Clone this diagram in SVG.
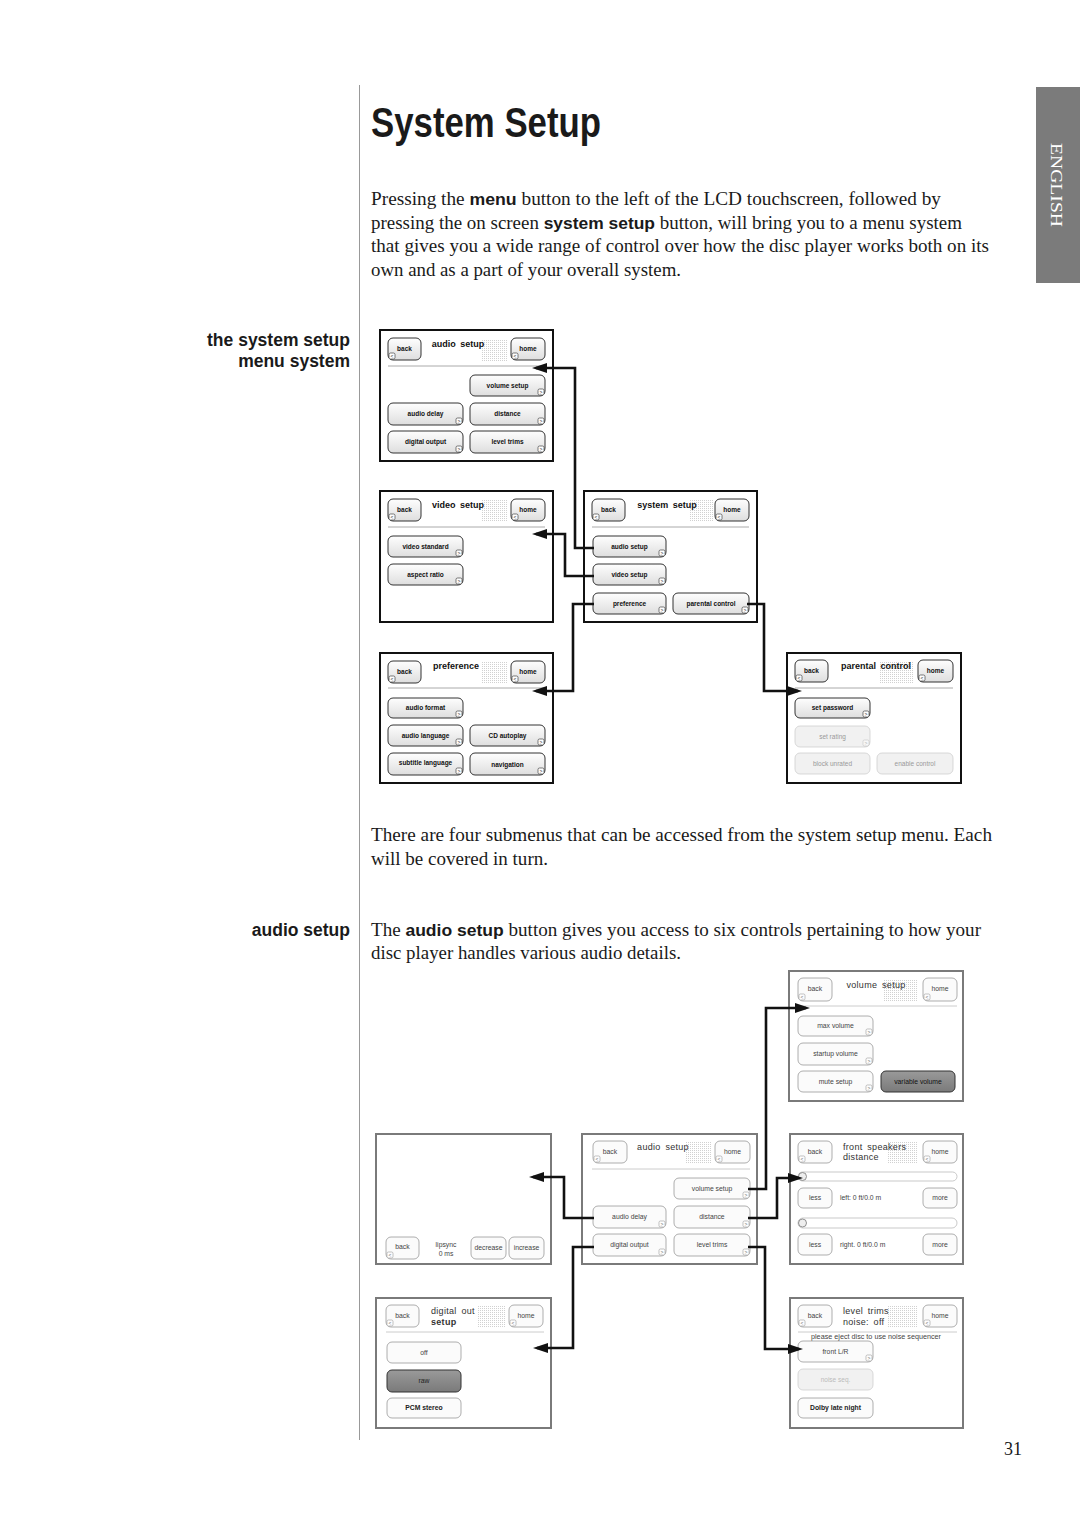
<svg xmlns="http://www.w3.org/2000/svg" xmlns:xlink="http://www.w3.org/1999/xlink" width="1080" height="1527" viewBox="0 0 1080 1527">
<defs>
<linearGradient id="bg" x1="0" y1="0" x2="0" y2="1"><stop offset="0" stop-color="#fefefe"/><stop offset="1" stop-color="#dedede"/></linearGradient>
<linearGradient id="dk" x1="0" y1="0" x2="0" y2="1"><stop offset="0" stop-color="#9a9a9a"/><stop offset="1" stop-color="#7a7a7a"/></linearGradient>
<pattern id="dots" width="2" height="2" patternUnits="userSpaceOnUse"><rect width="1" height="1" fill="#bdbdbd"/></pattern>
<marker id="ah" viewBox="0 0 15 10" refX="11" refY="5" markerWidth="15" markerHeight="10" markerUnits="userSpaceOnUse" orient="auto"><polygon points="0,0 15,5 0,10" fill="#111"/></marker>
<g id="cr"><rect x="0" y="0" width="6" height="6" rx="1.5" fill="#fff" stroke="#444" stroke-width="0.7"/><text x="3" y="4.8" font-family="Liberation Sans, Arial, sans-serif" font-size="5" text-anchor="middle" fill="#222">&gt;</text></g>
<g id="cl"><rect x="0" y="0" width="6" height="6" rx="1.5" fill="#fff" stroke="#444" stroke-width="0.7"/><text x="3" y="4.8" font-family="Liberation Sans, Arial, sans-serif" font-size="5" text-anchor="middle" fill="#222">&lt;</text></g>
<g id="cr2"><rect x="0" y="0" width="6" height="6" rx="1.5" fill="#fff" stroke="#999" stroke-width="0.6"/><text x="3" y="4.8" font-family="Liberation Sans, Arial, sans-serif" font-size="5" text-anchor="middle" fill="#666">&gt;</text></g>
<g id="cl2"><rect x="0" y="0" width="6" height="6" rx="1.5" fill="#fff" stroke="#999" stroke-width="0.6"/><text x="3" y="4.8" font-family="Liberation Sans, Arial, sans-serif" font-size="5" text-anchor="middle" fill="#666">&lt;</text></g>
</defs>
<style>
.body{font-family:"Liberation Serif","Times New Roman",serif;font-size:18.5px;fill:#1a1a1a}
.bsans{font-family:"Liberation Sans",Arial,sans-serif;font-weight:bold;font-size:17px}
.side{font-family:"Liberation Sans",Arial,sans-serif;font-weight:bold;font-size:17.5px;fill:#1a1a1a;text-anchor:end}
.pan{fill:#fff;stroke:#111;stroke-width:2}
.pan2{fill:#fff;stroke:#7a7a7a;stroke-width:2}
.b{fill:url(#bg);stroke:#333;stroke-width:1}
.b2{fill:#fbfbfb;stroke:#999;stroke-width:0.8}
.bg{fill:#f1f1f1;stroke:#cfcfcf;stroke-width:0.8}
.bd{fill:url(#dk);stroke:#333;stroke-width:1}
.sep{stroke:#aaa;stroke-width:1}
.sep2{stroke:#ccc;stroke-width:1}
.t{font-family:"Liberation Sans",Arial,sans-serif;font-size:6.5px;font-weight:bold;text-anchor:middle;fill:#111}
.t2{font-family:"Liberation Sans",Arial,sans-serif;font-size:6.8px;text-anchor:middle;fill:#444}
.tg{font-family:"Liberation Sans",Arial,sans-serif;font-size:6.5px;text-anchor:middle;fill:#999}
.ti{font-family:"Liberation Sans",Arial,sans-serif;font-size:9px;font-weight:bold;text-anchor:middle;fill:#111;word-spacing:2px}
.ti2{font-family:"Liberation Sans",Arial,sans-serif;font-size:9px;fill:#333;word-spacing:2px;letter-spacing:0.3px}
.dp{fill:url(#dots);opacity:0.7}
.conn{fill:none;stroke:#111;stroke-width:2.6;stroke-linejoin:miter;marker-end:url(#ah)}
</style>

<!-- page furniture -->
<rect x="1036" y="87" width="44" height="196" fill="#7b7b7b"/>
<text x="0" y="0" transform="translate(1051,185) rotate(90)" font-family="Liberation Serif, Times New Roman, serif" font-size="17" fill="#fff" text-anchor="middle" textLength="84" lengthAdjust="spacingAndGlyphs">ENGLISH</text>
<line x1="359.5" y1="85" x2="359.5" y2="1440" stroke="#999" stroke-width="1"/>
<text x="371" y="137" font-family="Liberation Sans, Arial, sans-serif" font-weight="bold" font-size="43" fill="#1a1a1a" textLength="230" lengthAdjust="spacingAndGlyphs">System Setup</text>

<text class="body" x="371" y="205" textLength="570" lengthAdjust="spacingAndGlyphs">Pressing the <tspan class="bsans">menu</tspan> button to the left of the LCD touchscreen, followed by</text>
<text class="body" x="371" y="229" textLength="591" lengthAdjust="spacingAndGlyphs">pressing the on screen <tspan class="bsans">system setup</tspan> button, will bring you to a menu system</text>
<text class="body" x="371" y="252" textLength="618" lengthAdjust="spacingAndGlyphs">that gives you a wide range of control over how the disc player works both on its</text>
<text class="body" x="371" y="276" textLength="310" lengthAdjust="spacingAndGlyphs">own and as a part of your overall system.</text>

<text class="side" x="350" y="346">the system setup</text>
<text class="side" x="350" y="367">menu system</text>

<text class="body" x="371" y="841" textLength="621" lengthAdjust="spacingAndGlyphs">There are four submenus that can be accessed from the system setup menu. Each</text>
<text class="body" x="371" y="865" textLength="177" lengthAdjust="spacingAndGlyphs">will be covered in turn.</text>

<text class="side" x="350" y="936">audio setup</text>
<text class="body" x="371" y="936" textLength="610" lengthAdjust="spacingAndGlyphs">The <tspan class="bsans">audio setup</tspan> button gives you access to six controls pertaining to how your</text>
<text class="body" x="371" y="959" textLength="310" lengthAdjust="spacingAndGlyphs">disc player handles various audio details.</text>

<text x="1022" y="1455" font-family="Liberation Serif, Times New Roman, serif" font-size="18" fill="#1a1a1a" text-anchor="end">31</text>

<!-- audio setup (top) -->
<g id="audio-setup-top">
<rect class="pan" x="380" y="330" width="173" height="131"/>
<rect class="dp" x="482" y="339" width="26" height="22"/>
<rect class="b" x="388" y="338" width="33" height="22" rx="5"/><text class="t" x="404.5" y="351">back</text><use xlink:href="#cl" x="389" y="353"/>
<text class="ti" x="458" y="347">audio setup</text>
<rect class="b" x="511" y="338" width="34" height="22" rx="5"/><text class="t" x="528" y="351">home</text><use xlink:href="#cl" x="512" y="353"/>
<line class="sep" x1="388" y1="366" x2="545" y2="366"/>
<rect class="b" x="470" y="375" width="75" height="21" rx="5"/><text class="t" x="507.5" y="388">volume setup</text><use xlink:href="#cr" x="538" y="389"/>
<rect class="b" x="388" y="403" width="75" height="22" rx="5"/><text class="t" x="425.5" y="416">audio delay</text><use xlink:href="#cr" x="456" y="418"/>
<rect class="b" x="470" y="403" width="75" height="22" rx="5"/><text class="t" x="507.5" y="416">distance</text><use xlink:href="#cr" x="538" y="418"/>
<rect class="b" x="388" y="431" width="75" height="22" rx="5"/><text class="t" x="425.5" y="444">digital output</text><use xlink:href="#cr" x="456" y="446"/>
<rect class="b" x="470" y="431" width="75" height="22" rx="5"/><text class="t" x="507.5" y="444">level trims</text><use xlink:href="#cr" x="538" y="446"/>
</g>

<!-- video setup -->
<g id="video-setup">
<rect class="pan" x="380" y="491" width="173" height="131"/>
<rect class="dp" x="482" y="500" width="26" height="22"/>
<rect class="b" x="388" y="499" width="33" height="22" rx="5"/><text class="t" x="404.5" y="512">back</text><use xlink:href="#cl" x="389" y="514"/>
<text class="ti" x="458" y="508">video setup</text>
<rect class="b" x="511" y="499" width="34" height="22" rx="5"/><text class="t" x="528" y="512">home</text><use xlink:href="#cl" x="512" y="514"/>
<line class="sep" x1="388" y1="527" x2="545" y2="527"/>
<rect class="b" x="388" y="536" width="75" height="21" rx="5"/><text class="t" x="425.5" y="549">video standard</text><use xlink:href="#cr" x="456" y="550"/>
<rect class="b" x="388" y="564" width="75" height="21" rx="5"/><text class="t" x="425.5" y="577">aspect ratio</text><use xlink:href="#cr" x="456" y="578"/>
</g>

<!-- system setup -->
<g id="system-setup">
<rect class="pan" x="584" y="491" width="173" height="131"/>
<rect class="dp" x="690" y="500" width="24" height="22"/>
<rect class="b" x="592" y="499" width="33" height="22" rx="5"/><text class="t" x="608.5" y="512">back</text><use xlink:href="#cl" x="593" y="514"/>
<text class="ti" x="667" y="508">system setup</text>
<rect class="b" x="715" y="499" width="34" height="22" rx="5"/><text class="t" x="732" y="512">home</text><use xlink:href="#cl" x="716" y="514"/>
<line class="sep" x1="592" y1="527" x2="749" y2="527"/>
<rect class="b" x="593" y="536" width="73" height="21" rx="5"/><text class="t" x="629.5" y="549">audio setup</text><use xlink:href="#cr" x="659" y="550"/>
<rect class="b" x="593" y="564" width="73" height="21" rx="5"/><text class="t" x="629.5" y="577">video setup</text><use xlink:href="#cr" x="659" y="578"/>
<rect class="b" x="593" y="593" width="73" height="21" rx="5"/><text class="t" x="629.5" y="606">preference</text><use xlink:href="#cr" x="659" y="607"/>
<rect class="b" x="673" y="593" width="76" height="21" rx="5"/><text class="t" x="711" y="606">parental control</text><use xlink:href="#cr" x="742" y="607"/>
</g>

<!-- preference -->
<g id="preference">
<rect class="pan" x="380" y="653" width="173" height="130"/>
<rect class="dp" x="482" y="662" width="26" height="22"/>
<rect class="b" x="388" y="661" width="33" height="22" rx="5"/><text class="t" x="404.5" y="674">back</text><use xlink:href="#cl" x="389" y="676"/>
<text class="ti" x="456" y="669">preference</text>
<rect class="b" x="511" y="661" width="34" height="22" rx="5"/><text class="t" x="528" y="674">home</text><use xlink:href="#cl" x="512" y="676"/>
<line class="sep" x1="388" y1="688" x2="545" y2="688"/>
<rect class="b" x="388" y="698" width="75" height="20" rx="5"/><text class="t" x="425.5" y="710">audio format</text><use xlink:href="#cr" x="456" y="711"/>
<rect class="b" x="388" y="725" width="75" height="21" rx="5"/><text class="t" x="425.5" y="738">audio language</text><use xlink:href="#cr" x="456" y="739"/>
<rect class="b" x="470" y="725" width="75" height="21" rx="5"/><text class="t" x="507.5" y="738">CD autoplay</text><use xlink:href="#cr" x="538" y="739"/>
<rect class="b" x="388" y="753" width="75" height="22" rx="5"/><text class="t" x="425.5" y="765">subtitle language</text><use xlink:href="#cr" x="456" y="768"/>
<rect class="b" x="470" y="753" width="75" height="22" rx="5"/><text class="t" x="507.5" y="767">navigation</text><use xlink:href="#cr" x="538" y="768"/>
</g>

<!-- parental control -->
<g id="parental-control">
<rect class="pan" x="787" y="653" width="174" height="130"/>
<rect class="dp" x="880" y="662" width="34" height="22"/>
<rect class="b" x="795" y="660" width="33" height="22" rx="5"/><text class="t" x="811.5" y="673">back</text><use xlink:href="#cl" x="796" y="675"/>
<text class="ti" x="876" y="669">parental control</text>
<rect class="b" x="918" y="660" width="35" height="22" rx="5"/><text class="t" x="935.5" y="673">home</text><use xlink:href="#cl" x="919" y="675"/>
<line class="sep" x1="795" y1="688" x2="953" y2="688"/>
<rect class="b" x="795" y="698" width="75" height="20" rx="5"/><text class="t" x="832.5" y="710">set password</text><use xlink:href="#cr" x="863" y="711"/>
<rect class="bg" x="795" y="726" width="75" height="21" rx="5"/><text class="tg" x="832.5" y="739">set rating</text><use xlink:href="#cr2" x="863" y="740" opacity="0.5"/>
<rect class="bg" x="795" y="753" width="75" height="21" rx="5"/><text class="tg" x="832.5" y="766">block unrated</text>
<rect class="bg" x="877" y="753" width="76" height="21" rx="5"/><text class="tg" x="915" y="766">enable control</text>
</g>

<!-- volume setup -->
<g id="volume-setup">
<rect class="pan2" x="789" y="971" width="174" height="130"/>
<rect class="dp" x="883" y="979" width="34" height="22"/>
<rect class="b2" x="798" y="978" width="34" height="23" rx="5"/><text class="t2" x="815" y="991">back</text><use xlink:href="#cl2" x="799" y="994"/>
<text class="ti2" x="876" y="988" text-anchor="middle">volume setup</text>
<rect class="b2" x="923" y="978" width="34" height="23" rx="5"/><text class="t2" x="940" y="991">home</text><use xlink:href="#cl2" x="924" y="994"/>
<line class="sep2" x1="798" y1="1006" x2="957" y2="1006"/>
<rect class="b2" x="798" y="1016" width="75" height="20" rx="5"/><text class="t2" x="835.5" y="1028">max volume</text><use xlink:href="#cr2" x="866" y="1029"/>
<rect class="b2" x="798" y="1043" width="75" height="22" rx="5"/><text class="t2" x="835.5" y="1056">startup volume</text><use xlink:href="#cr2" x="866" y="1058"/>
<rect class="b2" x="798" y="1071" width="75" height="21" rx="5"/><text class="t2" x="835.5" y="1084">mute setup</text><use xlink:href="#cr2" x="866" y="1085"/>
<rect class="bd" x="881" y="1071" width="74" height="21" rx="5"/><text class="t2" x="918" y="1084" style="fill:#111">variable volume</text>
</g>

<!-- lipsync -->
<g id="lipsync">
<rect class="pan2" x="376" y="1134" width="175" height="130"/>
<rect class="b2" x="386" y="1237" width="33" height="22" rx="5"/><text class="t2" x="402.5" y="1249">back</text><use xlink:href="#cl2" x="387" y="1252"/>
<text class="t2" x="446" y="1247">lipsync</text>
<text class="t2" x="446" y="1256">0 ms</text>
<rect class="b2" x="471" y="1237" width="35" height="22" rx="5"/><text class="t2" x="488.5" y="1250">decrease</text>
<rect class="b2" x="509" y="1237" width="35" height="22" rx="5"/><text class="t2" x="526.5" y="1250">increase</text>
</g>

<!-- audio setup (lower) -->
<g id="audio-setup-lower">
<rect class="pan2" x="582" y="1134" width="175" height="130"/>
<rect class="dp" x="686" y="1142" width="26" height="22"/>
<rect class="b2" x="593" y="1141" width="34" height="22" rx="5"/><text class="t2" x="610" y="1154">back</text><use xlink:href="#cl2" x="594" y="1156"/>
<text class="ti2" x="663" y="1150" text-anchor="middle">audio setup</text>
<rect class="b2" x="715" y="1141" width="35" height="22" rx="5"/><text class="t2" x="732.5" y="1154">home</text><use xlink:href="#cl2" x="716" y="1156"/>
<line class="sep2" x1="592" y1="1169" x2="750" y2="1169"/>
<rect class="b2" x="674" y="1178" width="76" height="21" rx="5"/><text class="t2" x="712" y="1191">volume setup</text><use xlink:href="#cr2" x="743" y="1192"/>
<rect class="b2" x="593" y="1206" width="73" height="22" rx="5"/><text class="t2" x="629.5" y="1219">audio delay</text><use xlink:href="#cr2" x="659" y="1221"/>
<rect class="b2" x="674" y="1206" width="76" height="22" rx="5"/><text class="t2" x="712" y="1219">distance</text><use xlink:href="#cr2" x="743" y="1221"/>
<rect class="b2" x="593" y="1234" width="73" height="22" rx="5"/><text class="t2" x="629.5" y="1247">digital output</text><use xlink:href="#cr2" x="659" y="1249"/>
<rect class="b2" x="674" y="1234" width="76" height="22" rx="5"/><text class="t2" x="712" y="1247">level trims</text><use xlink:href="#cr2" x="743" y="1249"/>
</g>

<!-- front speakers distance -->
<g id="front-speakers">
<rect class="pan2" x="790" y="1134" width="173" height="130"/>
<rect class="dp" x="887" y="1142" width="30" height="22"/>
<rect class="b2" x="798" y="1141" width="34" height="22" rx="5"/><text class="t2" x="815" y="1154">back</text><use xlink:href="#cl2" x="799" y="1156"/>
<text class="ti2" x="843" y="1150">front speakers</text>
<text class="ti2" x="843" y="1160">distance</text>
<rect class="b2" x="923" y="1141" width="34" height="22" rx="5"/><text class="t2" x="940" y="1154">home</text><use xlink:href="#cl2" x="924" y="1156"/>
<rect x="798" y="1172" width="159" height="9" rx="4.5" fill="#fff" stroke="#bbb" stroke-width="0.8"/>
<circle cx="802.5" cy="1176.5" r="4" fill="#eee" stroke="#777" stroke-width="0.8"/>
<rect class="b2" x="798" y="1188" width="34" height="20" rx="5"/><text class="t2" x="815" y="1200">less</text>
<text class="t2" x="840" y="1200" style="text-anchor:start">left: 0 ft/0.0 m</text>
<rect class="b2" x="923" y="1188" width="34" height="20" rx="5"/><text class="t2" x="940" y="1200">more</text>
<rect x="798" y="1218" width="159" height="10" rx="5" fill="#fff" stroke="#bbb" stroke-width="0.8"/>
<circle cx="802.5" cy="1223" r="4" fill="#eee" stroke="#777" stroke-width="0.8"/>
<rect class="b2" x="798" y="1234" width="34" height="21" rx="5"/><text class="t2" x="815" y="1247">less</text>
<text class="t2" x="840" y="1247" style="text-anchor:start">right. 0 ft/0.0 m</text>
<rect class="b2" x="923" y="1234" width="34" height="21" rx="5"/><text class="t2" x="940" y="1247">more</text>
</g>

<!-- digital out setup -->
<g id="digital-out">
<rect class="pan2" x="376" y="1298" width="175" height="130"/>
<rect class="dp" x="478" y="1306" width="28" height="22"/>
<rect class="b2" x="386" y="1305" width="33" height="22" rx="5"/><text class="t2" x="402.5" y="1318">back</text><use xlink:href="#cl2" x="387" y="1320"/>
<text class="ti2" x="431" y="1314">digital out</text>
<text class="ti2" x="431" y="1325" font-weight="bold">setup</text>
<rect class="b2" x="509" y="1305" width="34" height="22" rx="5"/><text class="t2" x="526" y="1318">home</text><use xlink:href="#cl2" x="510" y="1320"/>
<line class="sep2" x1="386" y1="1332" x2="544" y2="1332"/>
<rect class="b2" x="387" y="1342" width="74" height="21" rx="5"/><text class="t2" x="424" y="1355">off</text>
<rect class="bd" x="387" y="1370" width="74" height="22" rx="5"/><text class="t2" x="424" y="1383" style="fill:#222">raw</text>
<rect class="b2" x="387" y="1398" width="74" height="20" rx="5"/><text class="t2" x="424" y="1410" style="fill:#222;font-weight:bold">PCM stereo</text>
</g>

<!-- level trims -->
<g id="level-trims">
<rect class="pan2" x="790" y="1298" width="173" height="130"/>
<rect class="dp" x="887" y="1306" width="30" height="22"/>
<rect class="b2" x="798" y="1305" width="34" height="22" rx="5"/><text class="t2" x="815" y="1318">back</text><use xlink:href="#cl2" x="799" y="1320"/>
<text class="ti2" x="843" y="1314">level trims</text>
<text class="ti2" x="843" y="1325">noise: off</text>
<rect class="b2" x="923" y="1305" width="34" height="22" rx="5"/><text class="t2" x="940" y="1318">home</text><use xlink:href="#cl2" x="924" y="1320"/>
<line class="sep2" x1="798" y1="1332" x2="957" y2="1332"/>
<text class="t2" x="876" y="1339" style="font-size:6.3px" textLength="130" lengthAdjust="spacingAndGlyphs">please eject disc to use noise sequencer</text>
<rect class="b2" x="798" y="1341" width="75" height="21" rx="5"/><text class="t2" x="835.5" y="1354">front L/R</text><use xlink:href="#cr2" x="866" y="1355"/>
<rect class="bg" x="798" y="1369" width="75" height="21" rx="5"/><text class="tg" x="835.5" y="1382" style="fill:#bbb">noise seq.</text>
<rect class="b2" x="798" y="1398" width="75" height="20" rx="5"/><text class="t2" x="835.5" y="1410" style="fill:#222;font-weight:bold">Dolby late night</text>
</g>

<!-- connectors (drawn on top of panels) -->
<g id="connectors">
<polyline class="conn" points="594,548 575,548 575,368 536,368"/>
<polyline class="conn" points="594,576 565,576 565,534 536,534"/>
<polyline class="conn" points="594,604 573,604 573,691 536,691"/>
<polyline class="conn" points="747,604 764,604 764,691 798,691"/>
<polyline class="conn" points="748,1189 766,1189 766,1008 806,1008"/>
<polyline class="conn" points="748,1218 777,1218 777,1178 799,1178"/>
<polyline class="conn" points="748,1247 765,1247 765,1349 799,1349"/>
<polyline class="conn" points="594,1218 564,1218 564,1177 533,1177"/>
<polyline class="conn" points="594,1247 573,1247 573,1348 537,1348"/>
</g>
</svg>
